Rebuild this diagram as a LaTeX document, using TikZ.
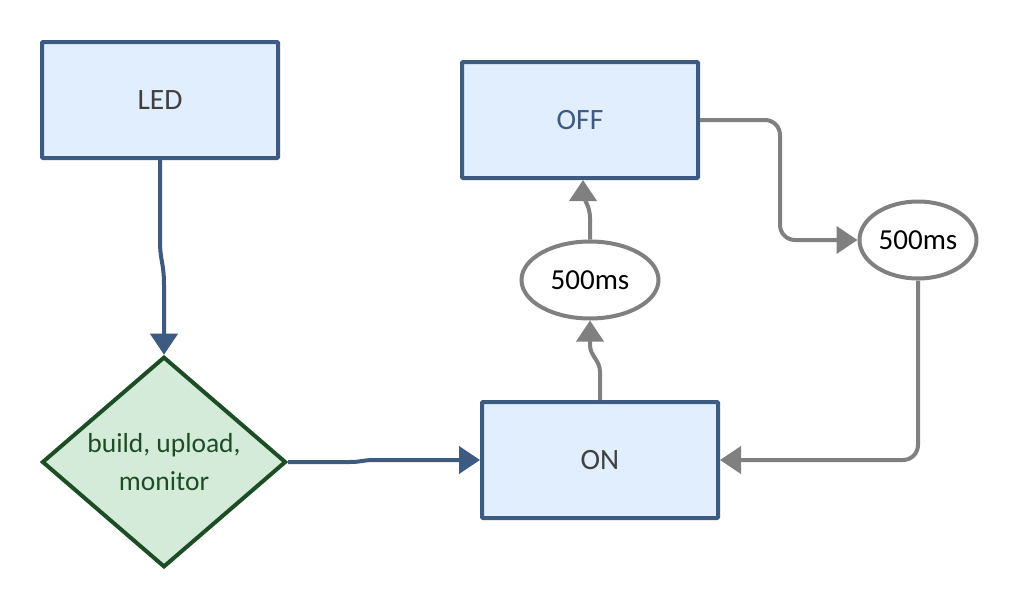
\documentclass[tikz,border=0pt]{standalone}
\usepackage{fontspec}
\setmainfont{Carlito}
\usetikzlibrary{arrows.meta,shapes.geometric}
\definecolor{bbord}{HTML}{3D5A80}
\definecolor{bfill}{HTML}{E1EEFD}
\definecolor{tgray}{HTML}{404040}
\definecolor{gbord}{HTML}{1D4D24}
\definecolor{gfill}{HTML}{D5EBD9}
\definecolor{lgray}{HTML}{808080}
\begin{document}
\begin{tikzpicture}[x=1pt,y=-1pt,
  box/.style={draw=bbord, fill=bfill, line width=4pt, minimum width=236pt, minimum height=116pt, inner sep=0pt, rounded corners=1pt, text=tgray, font=\fontsize{29.5}{34}\selectfont},
  decision/.style={diamond, draw=gbord, fill=gfill, line width=4pt, minimum width=244pt, minimum height=199pt, inner sep=0pt, text=gbord, align=center, font=\fontsize{27.5}{38}\selectfont},
  timer/.style={ellipse, draw=lgray, fill=white, line width=4pt, inner sep=0pt, text=black, font=\fontsize{29}{34}\selectfont},
  blueline/.style={draw=bbord, line width=4pt, -{Triangle[length=21pt,width=27pt]}},
  grayline/.style={draw=lgray, line width=4pt, -{Triangle[length=21pt,width=27pt]}}
]
\useasboundingbox (0,0) rectangle (1020,605);
\fill[white] (0,0) rectangle (1020,605);

\node[box] (led) at (160,100) {LED};
\node[box, text=bbord] (off) at (580,120) {OFF};
\node[box] (on) at (600,460) {ON};
\node[decision] (dia) at (164,462) {build, upload,\\monitor};
\node[timer, minimum width=137pt, minimum height=77pt] (e1) at (590,280) {500ms};
\node[timer, minimum width=117pt, minimum height=77pt] (e2) at (918,240) {500ms};

\draw[blueline] (led.south) -- (160,240) .. controls (160,262) and (164,262) .. (164,285) -- (dia.north);
\draw[blueline] (dia.east) -- (350,462) .. controls (362,462) and (362,460) .. (375,460) -- (on.west);
\draw[grayline] (on.north) -- (600,372) .. controls (600,360) and (590,356) .. (590,345) -- (e1.south);
\draw[grayline] (e1.north) -- (590,218) .. controls (590,205) and (583,200) .. (583,192) -- ([xshift=3pt]off.south);
\draw[grayline, rounded corners=15pt] (off.east) -| (780,240) -- (e2.west);
\draw[grayline, rounded corners=15pt] (e2.south) |- (on.east);
\end{tikzpicture}
\end{document}
